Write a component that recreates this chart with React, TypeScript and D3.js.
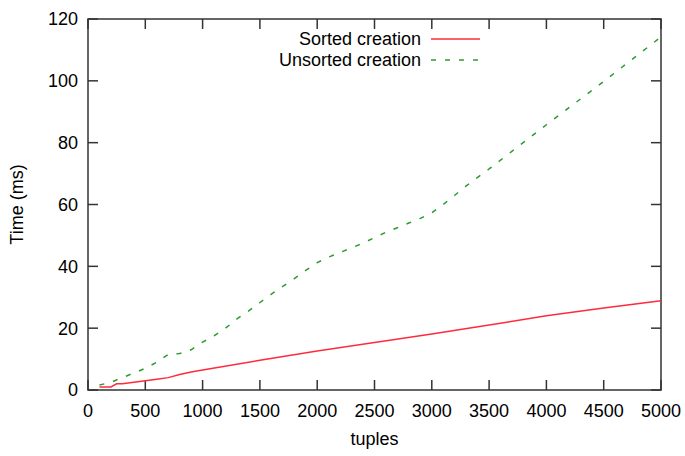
import React, { useEffect, useRef } from 'react'
import * as d3 from 'd3'

// tuples counts and times in ms
const sortedX = [100, 200, 250, 300, 400, 500, 600, 700, 800, 900, 1000, 1500, 2000, 2500, 3000, 3500, 4000, 4500, 5000]
const sortedY = [1, 1, 2, 2, 2.5, 3, 3.5, 4, 5, 5.8, 6.5, 9.6, 12.6, 15.4, 18.1, 21, 24, 26.5, 28.9]

const unsortedX = [100, 200, 300, 400, 500, 600, 700, 800, 900, 1000, 1100, 1200, 1300, 1400, 1500, 1600, 1700, 1800, 1900, 2000,
    2100, 2200, 2300, 2400, 2500, 2600, 2700, 2800, 2900, 3000, 3100, 3200, 3300, 3400, 3500, 4000, 4500, 5000]
const unsortedY = [1.6, 2.5, 4, 5.5, 7, 9, 11.5, 11.8, 13, 15.5, 17.5, 20, 23, 25.5, 28.3, 31, 33.5, 36, 38.7, 41.2,
    43, 44.5, 46, 47.5, 49.3, 51, 52.5, 54, 55.5, 57.3, 60, 63, 66, 68.8, 71.5, 85.8, 99.8, 114.2]

const xTicks = [0, 500, 1000, 1500, 2000, 2500, 3000, 3500, 4000, 4500, 5000]
const yTicks = [0, 20, 40, 60, 80, 100, 120]

const seriesNames = ['Sorted creation', 'Unsorted creation']

const App = () => {
    const ref = useRef<SVGSVGElement>(null)

    // size of the picture and the plot box inside it
    const width = 685,
        height = 456
    const margin = { left: 88, right: 24, top: 19, bottom: 66 }

    useEffect(() => {
        const svg = d3.select(ref.current)
        svg.selectAll('*').remove()

        const x = d3.scaleLinear().domain([0, 5000]).range([margin.left, width - margin.right])
        const y = d3.scaleLinear().domain([0, 120]).range([height - margin.bottom, margin.top])

        const font = 'Liberation Sans, Arial, Helvetica, sans-serif'
        const axisColor = '#333'
        const tickLen = 10

        const g = svg.append('g')

        // ticks on all four sides, pointing inward (gnuplot style)
        xTicks.forEach(t => {
            g.append('line')
                .attr('x1', x(t)).attr('x2', x(t))
                .attr('y1', y(0)).attr('y2', y(0) - tickLen)
                .attr('stroke', axisColor).attr('stroke-width', 1.5)
            g.append('line')
                .attr('x1', x(t)).attr('x2', x(t))
                .attr('y1', y(120)).attr('y2', y(120) + tickLen)
                .attr('stroke', axisColor).attr('stroke-width', 1.5)
            g.append('text')
                .attr('x', x(t)).attr('y', y(0) + 27)
                .attr('text-anchor', 'middle')
                .style('font-family', font).style('font-size', '18px')
                .text(t)
        })
        yTicks.forEach(t => {
            g.append('line')
                .attr('x1', x(0)).attr('x2', x(0) + tickLen)
                .attr('y1', y(t)).attr('y2', y(t))
                .attr('stroke', axisColor).attr('stroke-width', 1.5)
            g.append('line')
                .attr('x1', x(5000)).attr('x2', x(5000) - tickLen)
                .attr('y1', y(t)).attr('y2', y(t))
                .attr('stroke', axisColor).attr('stroke-width', 1.5)
            g.append('text')
                .attr('x', x(0) - 10).attr('y', y(t))
                .attr('dy', '0.36em')
                .attr('text-anchor', 'end')
                .style('font-family', font).style('font-size', '18px')
                .text(t)
        })

        // plot border
        g.append('rect')
            .attr('x', x(0)).attr('y', y(120))
            .attr('width', x(5000) - x(0)).attr('height', y(0) - y(120))
            .attr('fill', 'none').attr('stroke', axisColor).attr('stroke-width', 1.5)

        // axis titles
        g.append('text')
            .attr('x', (x(0) + x(5000)) / 2).attr('y', height - 11)
            .attr('text-anchor', 'middle')
            .style('font-family', font).style('font-size', '18px')
            .text('tuples')
        g.append('text')
            .attr('transform', `translate(23,${(y(0) + y(120)) / 2}) rotate(-90)`)
            .attr('text-anchor', 'middle')
            .style('font-family', font).style('font-size', '18px')
            .text('Time (ms)')

        const line = d3.line<[number, number]>()
            .x(d => x(d[0]))
            .y(d => y(d[1]))

        const series = [
            { name: seriesNames[0], pts: sortedX.map((v, i) => [v, sortedY[i]] as [number, number]), color: '#ff2a3c', dash: null },
            { name: seriesNames[1], pts: unsortedX.map((v, i) => [v, unsortedY[i]] as [number, number]), color: '#2f9a2f', dash: '5,9' },
        ]

        series.forEach((s, i) => {
            g.append('path')
                .attr('d', line(s.pts))
                .attr('fill', 'none')
                .attr('stroke', s.color)
                .attr('stroke-width', 1.5)
                .attr('stroke-dasharray', s.dash)

            // legend row
            const ly = 39 + i * 21
            g.append('text')
                .attr('x', 421).attr('y', ly)
                .attr('dy', '0.36em')
                .attr('text-anchor', 'end')
                .style('font-family', font).style('font-size', '18px')
                .text(s.name)
            g.append('line')
                .attr('x1', 431).attr('x2', 480)
                .attr('y1', ly).attr('y2', ly)
                .attr('stroke', s.color)
                .attr('stroke-width', 1.5)
                .attr('stroke-dasharray', s.dash)
        })
    }, [])

    return (
        <svg ref={ref} width={width} height={height}
            style={{ position: 'absolute', left: 0, top: 0, background: '#fff' }} />
    )
}

export default App
